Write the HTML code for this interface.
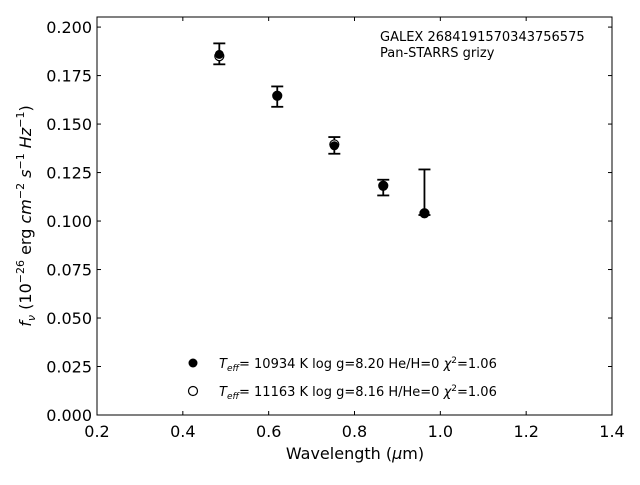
<!DOCTYPE html>
<html><head><meta charset="utf-8"><style>
body{margin:0;background:#fff;font-family:"Liberation Sans","DejaVu Sans",sans-serif}
svg text{font-family:"DejaVu Sans","Liberation Sans",sans-serif;fill:#000}
</style></head><body>
<svg id="chart" width="640" height="480" xmlns="http://www.w3.org/2000/svg">
<rect x="0" y="0" width="640" height="480" fill="#fff"/>
<g id="ticks"></g>
<g id="marks"></g>
<rect x="97" y="17" width="515" height="398" fill="none" stroke="#000" stroke-width="1"/>
<text x="355" y="459" font-size="16" text-anchor="middle">Wavelength (<tspan font-style="italic">μ</tspan>m)</text>
<text transform="translate(31,216) rotate(-90)" font-size="16" text-anchor="middle"><tspan font-style="italic">f</tspan><tspan font-style="italic" font-size="11" dy="4">ν</tspan><tspan dy="-4"> (10</tspan><tspan font-size="11" dy="-7">−26</tspan><tspan dy="7"> erg </tspan><tspan font-style="italic">cm</tspan><tspan font-size="11" dy="-7">−2</tspan><tspan dy="7" font-style="italic"> s</tspan><tspan font-size="11" dy="-7">−1</tspan><tspan dy="7" font-style="italic"> Hz</tspan><tspan font-size="11" dy="-7">−1</tspan><tspan dy="7">)</tspan></text>
<text x="380" y="41" font-size="13">GALEX 2684191570343756575</text>
<text x="380" y="57" font-size="13">Pan-STARRS grizy</text>
<g>
<circle cx="193" cy="363" r="4.5" fill="#000"/>
<text x="219" y="368" font-size="13"><tspan font-style="italic">T</tspan><tspan font-style="italic" font-size="9" dy="3">eff</tspan><tspan dy="-3">= 10934 K  log g=8.20  He/H=0  </tspan><tspan font-style="italic">χ</tspan><tspan font-size="9" dy="-5">2</tspan><tspan dy="5">=1.06</tspan></text>
<circle cx="193" cy="391" r="4.5" fill="#fff" stroke="#000" stroke-width="1.2"/>
<text x="219" y="396" font-size="13"><tspan font-style="italic">T</tspan><tspan font-style="italic" font-size="9" dy="3">eff</tspan><tspan dy="-3">= 11163 K  log g=8.16  H/He=0  </tspan><tspan font-style="italic">χ</tspan><tspan font-size="9" dy="-5">2</tspan><tspan dy="5">=1.06</tspan></text>
</g>
</svg>
<script>
const wavelengths=[0.485,0.620,0.753,0.867,0.963];
const fluxObs=[0.1859,0.1646,0.1388,0.1182,0.1040];
const errLow=[0.1808,0.1589,0.1347,0.1132,0.1031];
const errHigh=[0.1916,0.1694,0.1433,0.1213,0.1266];
const fluxModelH=[0.1850,0.1646,0.1395,0.1182,0.1040];
const xTicks=["0.2","0.4","0.6","0.8","1.0","1.2","1.4"];
const yTicks=["0.000","0.025","0.050","0.075","0.100","0.125","0.150","0.175","0.200"];
const NS="http://www.w3.org/2000/svg";
const X0=97,X1=612,Y0=415,Y1=17,xmin=0.2,xmax=1.4,ymin=0,ymax=0.2052;
function sx(v){return X0+(v-xmin)/(xmax-xmin)*(X1-X0);}
function sy(v){return Y0-(v-ymin)/(ymax-ymin)*(Y0-Y1);}
function mk(tag,attrs,parent){const e=document.createElementNS(NS,tag);for(const k in attrs)e.setAttribute(k,attrs[k]);parent.appendChild(e);return e;}
const tg=document.getElementById('ticks'),mg=document.getElementById('marks');
xTicks.forEach(t=>{const x=sx(parseFloat(t));
 const a=mk('line',{x1:x,x2:x,y1:Y0,y2:Y0-4,stroke:'#000'},tg);
 
 
 const b=mk('line',{x1:x,x2:x,y1:Y1,y2:Y1+4,stroke:'#000'},tg);
 
 
 const l=mk('text',{x:x,y:Y0+22,'font-size':16,'text-anchor':'middle'},tg);l.textContent=t;
 
 
});
yTicks.forEach(t=>{const y=sy(parseFloat(t));
 const a=mk('line',{x1:X0,x2:X0+4,y1:y,y2:y,stroke:'#000'},tg);
 
 
 const b=mk('line',{x1:X1,x2:X1-4,y1:y,y2:y,stroke:'#000'},tg);
 
 
 const l=mk('text',{x:X0-5,y:y+6,'font-size':16,'text-anchor':'end'},tg);l.textContent=t;
 
 
});
wavelengths.forEach((w,i)=>{const x=sx(w);
 const g=mk('g',{},mg);
 
 
 mk('line',{x1:x,x2:x,y1:sy(errLow[i]),y2:sy(errHigh[i]),stroke:'#000','stroke-width':1.8},g);
 mk('line',{x1:x-6,x2:x+6,y1:sy(errLow[i]),y2:sy(errLow[i]),stroke:'#000','stroke-width':1.8},g);
 mk('line',{x1:x-6,x2:x+6,y1:sy(errHigh[i]),y2:sy(errHigh[i]),stroke:'#000','stroke-width':1.8},g);
 mk('circle',{cx:x,cy:sy(fluxModelH[i]),r:4.5,fill:'#fff',stroke:'#000','stroke-width':1.2},g);
 mk('circle',{cx:x,cy:sy(fluxObs[i]),r:4.5,fill:'#000'},g);
});
</script>
</body></html>
